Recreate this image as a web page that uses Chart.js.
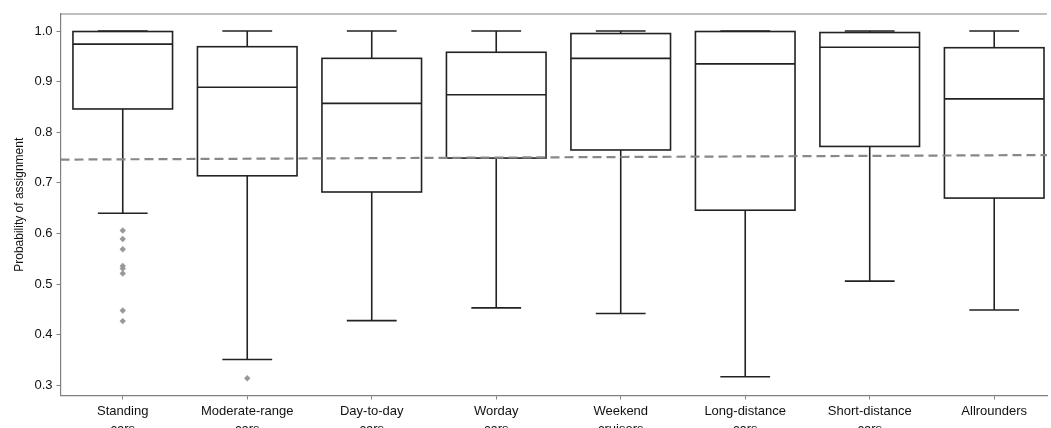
<!DOCTYPE html>
<html>
<head>
<meta charset="utf-8">
<script src="https://cdn.jsdelivr.net/npm/chart.js@4.4.1/dist/chart.umd.min.js"></script>
<style>
  html, body { margin: 0; padding: 0; background: #fff; overflow: hidden; }
  #wrap { width: 1051px; height: 428px; }
</style>
</head>
<body>
<div id="wrap"><canvas id="boxChart"></canvas></div>
<script>
// --- donnees ---
const categories = [
  ['Standing', 'cars'], ['Moderate-range', 'cars'], ['Day-to-day', 'cars'], ['Worday', 'cars'],
  ['Weekend', 'cruisers'], ['Long-distance', 'cars'], ['Short-distance', 'cars'], ['Allrounders']
];
const whiskerLow  = [0.640, 0.351, 0.428, 0.453, 0.442, 0.317, 0.506, 0.449];
const q1          = [0.846, 0.714, 0.682, 0.749, 0.765, 0.646, 0.772, 0.670];
const median      = [0.974, 0.889, 0.857, 0.874, 0.946, 0.935, 0.968, 0.866];
const q3          = [0.999, 0.969, 0.946, 0.958, 0.995, 0.999, 0.997, 0.967];
const whiskerHigh = [1.000, 1.000, 1.000, 1.000, 1.000, 1.000, 1.000, 1.000];

const outlierCat = [0, 0, 0, 0, 0, 0, 0, 0, 1];
const outlierVal = [0.606, 0.589, 0.569, 0.536, 0.531, 0.521, 0.448, 0.427, 0.314];

const refLineX = [-0.5, 7.424];
const refLineY = [0.746, 0.755];

const yTicks = [0.3, 0.4, 0.5, 0.6, 0.7, 0.8, 0.9, 1.0];

const FONT = "'Liberation Sans Narrow', 'Liberation Sans', Arial, sans-serif";

// boites dessinees avec les echelles du graphique
const boxPlugin = {
  id: 'boxes',
  beforeDatasetsDraw(chart) {
    const { ctx, scales: { x, y } } = chart;
    const boxW = 0.8, capW = 0.4;
    ctx.save();
    ctx.strokeStyle = '#222';
    ctx.lineWidth = 1.6;
    categories.forEach((c, i) => {
      const xl = x.getPixelForValue(i - boxW / 2);
      const xr = x.getPixelForValue(i + boxW / 2);
      const xc = x.getPixelForValue(i);
      const cl = x.getPixelForValue(i - capW / 2);
      const cr = x.getPixelForValue(i + capW / 2);
      const yq1 = y.getPixelForValue(q1[i]);
      const yq3 = y.getPixelForValue(q3[i]);
      const ym = y.getPixelForValue(median[i]);
      const ylo = y.getPixelForValue(whiskerLow[i]);
      const yhi = y.getPixelForValue(whiskerHigh[i]);
      ctx.beginPath();
      // moustaches
      ctx.moveTo(xc, yq1); ctx.lineTo(xc, ylo);
      ctx.moveTo(cl, ylo); ctx.lineTo(cr, ylo);
      ctx.moveTo(xc, yq3); ctx.lineTo(xc, yhi);
      ctx.moveTo(cl, yhi); ctx.lineTo(cr, yhi);
      // mediane
      ctx.moveTo(xl, ym); ctx.lineTo(xr, ym);
      ctx.stroke();
      ctx.strokeRect(xl, yq3, xr - xl, yq1 - yq3);
    });
    ctx.restore();
  },
  afterDraw(chart) {
    // spine du haut
    const { ctx, chartArea } = chart;
    ctx.save();
    ctx.strokeStyle = '#808080';
    ctx.lineWidth = 1.2;
    ctx.beginPath();
    ctx.moveTo(chartArea.left, chartArea.top);
    ctx.lineTo(chartArea.right, chartArea.top);
    ctx.stroke();
    ctx.restore();
  }
};

const ctx = document.getElementById('boxChart').getContext('2d');
new Chart(ctx, {
  type: 'scatter',
  data: {
    datasets: [
      {
        type: 'line',
        data: refLineX.map((v, i) => ({ x: v, y: refLineY[i] })),
        borderColor: '#888',
        borderWidth: 2.2,
        borderDash: [9, 5],
        pointRadius: 0,
        fill: false
      },
      {
        data: outlierCat.map((c, i) => ({ x: c, y: outlierVal[i] })),
        pointStyle: 'rectRot',
        pointRadius: 3.2,
        backgroundColor: '#999',
        borderColor: '#999',
        borderWidth: 0
      }
    ]
  },
  options: {
    responsive: true,
    maintainAspectRatio: false,
    animation: false,
    layout: { padding: { top: 14, right: 0, bottom: 0, left: 0 } },
    plugins: { legend: { display: false }, tooltip: { enabled: false } },
    scales: {
      x: {
        type: 'linear',
        min: refLineX[0],
        max: refLineX[1],
        afterBuildTicks: s => { s.ticks = categories.map((c, i) => ({ value: i })); },
        afterFit: s => { s.height = 32.5; },
        grid: { drawOnChartArea: false, drawTicks: true, tickLength: 4, color: '#808080' },
        border: { display: true, color: '#808080', width: 1.2 },
        ticks: {
          autoSkip: false,
          maxRotation: 0,
          padding: 3,
          color: '#111',
          font: { family: FONT, size: 13, lineHeight: 1.4 },
          callback: v => categories[Math.round(v)]
        }
      },
      y: {
        min: 0.28,
        max: 1.0336,
        afterBuildTicks: s => { s.ticks = yTicks.map(v => ({ value: v })); },
        afterFit: s => { s.width = 60.5; },
        grid: { drawOnChartArea: false, drawTicks: true, tickLength: 4, color: '#808080' },
        border: { display: true, color: '#808080', width: 1.2 },
        ticks: {
          padding: 4,
          color: '#111',
          font: { family: FONT, size: 13 },
          callback: v => v.toFixed(1)
        },
        title: {
          display: true,
          text: 'Probability of assignment',
          color: '#111',
          font: { family: FONT, size: 12 },
          padding: { top: 12, bottom: 0 }
        }
      }
    }
  },
  plugins: [boxPlugin]
});
</script>
</body>
</html>
